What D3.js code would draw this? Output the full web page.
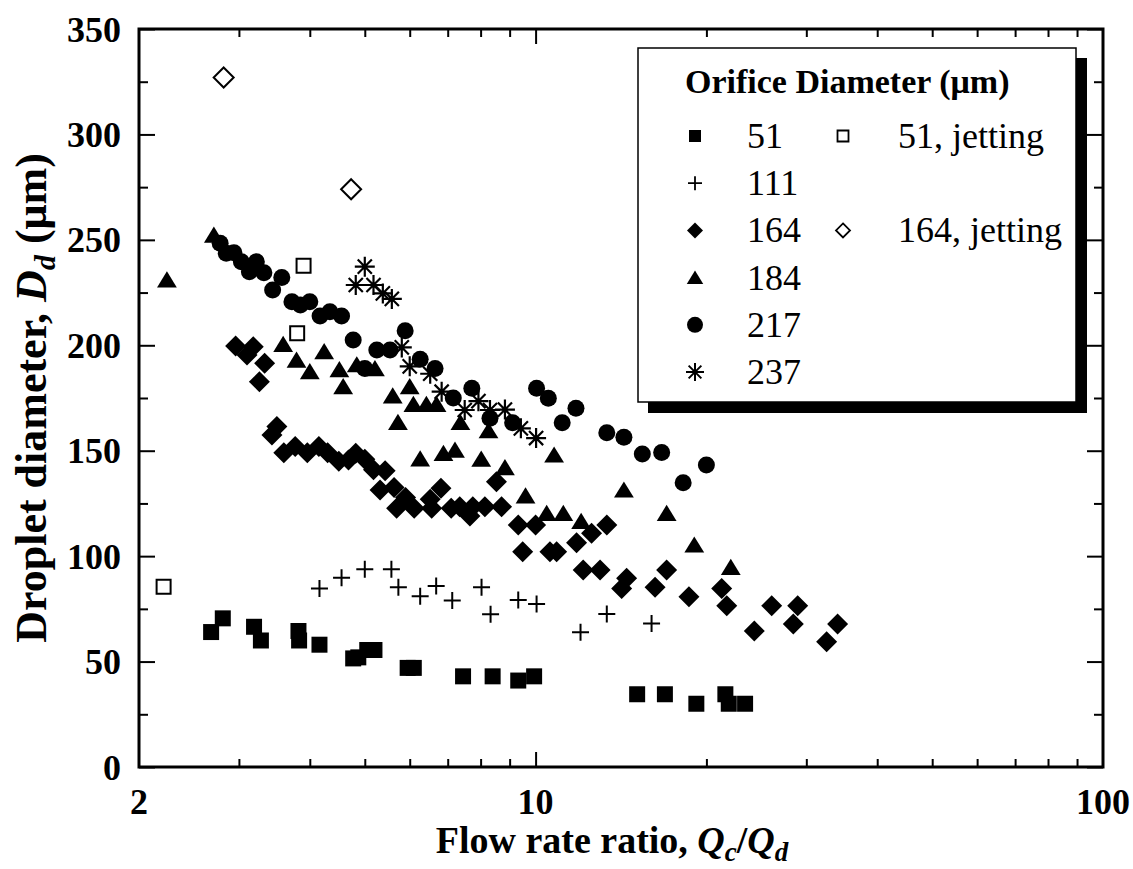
<!DOCTYPE html>
<html><head><meta charset="utf-8">
<script src="https://cdn.jsdelivr.net/npm/d3@7"></script>
<style>body{margin:0;background:#fff}svg text{font-family:"Liberation Serif","Times New Roman",serif}</style>
</head><body>
<svg id="c" width="1133" height="869"></svg>
<script>
// ---------- data (x = Qc/Qd, y = Dd in µm) ----------
const d51 = [[2.68,64],[2.81,70.5],[3.19,66.5],[3.28,60],[3.82,64.5],[3.83,60],[4.16,58],[4.77,51.5],[4.87,52],[5.05,55.5],[5.2,55.5],[5.95,47],[6.1,47],[7.45,43],[8.4,43],[9.32,41],[9.94,43],[15.1,34.5],[16.9,34.5],[19.2,30],[21.6,34.5],[21.9,30],[23.4,30]];
const d51jet = [[2.21,85.5],[3.90,237.7],[3.80,205.7]];
const d111 = [[4.16,84.7],[4.55,89.8],[5.0,93.8],[5.57,93.8],[5.73,85.2],[6.26,81],[6.68,85.8],[7.13,79],[8.03,85.2],[8.33,72.4],[9.32,79.2],[10.04,77.3],[12.0,63.9],[13.35,72.6],[16.01,68.1]];
const d164 = [[2.96,199.7],[3.10,195.4],[3.18,199.3],[3.26,182.7],[3.33,191.5],[3.43,157.4],[3.5,161.5],[3.6,149],[3.77,152],[3.96,149],[4.15,152],[4.3,149],[4.5,145],[4.68,145.6],[4.82,148.8],[5.0,146],[5.18,141],[5.43,140.5],[5.32,131.4],[5.63,132.5],[5.69,122.7],[5.9,127.8],[6.11,122.7],[6.52,127],[6.56,122.7],[6.81,132.2],[7.1,122.7],[7.35,123.4],[7.66,119],[7.75,123.4],[8.14,123.4],[8.53,135.3],[8.71,123.4],[9.32,114.8],[9.49,102.1],[10.0,114.8],[10.6,102.1],[10.89,102.1],[11.81,106.4],[12.13,93.4],[12.55,110.8],[12.99,93.4],[13.35,114.8],[14.18,84.7],[14.47,89.5],[16.24,85.2],[17.02,93.4],[18.63,80.8],[21.28,84.7],[21.72,76.5],[24.29,64.5],[26.07,76.5],[28.46,67.8],[28.97,76.5],[32.58,59.4],[34.06,67.8]];
const d164jet = [[2.82,327],[4.73,274]];
const d184 = [[2.24,231],[2.71,252.3],[3.59,200.5],[3.79,193],[4.0,187.5],[4.24,197],[4.51,188.5],[4.58,180.4],[4.84,190.8],[5.21,189],[5.6,176],[5.72,163.5],[6.0,180.4],[6.09,172],[6.42,172],[6.69,172],[6.26,146.2],[6.88,148.8],[7.21,150.3],[7.37,163.4],[8.02,146],[8.26,159.5],[8.83,142],[9.6,128.6],[10.46,120.3],[10.78,148],[11.19,120.3],[12.03,116.5],[14.31,131.4],[17.02,120.3],[19.04,105.3],[22.08,94.7]];
const d217 = [[2.78,248.4],[2.85,243.6],[2.94,243.9],[3.03,239.6],[3.13,234.9],[3.22,239.6],[3.32,234.4],[3.44,226.2],[3.57,232.2],[3.72,220.7],[3.85,219.1],[4.0,220.7],[4.17,213.9],[4.34,215.9],[4.55,213.9],[4.77,202.5],[5.0,189],[5.25,197.8],[5.54,197.8],[5.89,206.9],[6.26,193.4],[6.65,189],[7.16,175],[7.72,179.6],[8.31,165.4],[9.11,163.3],[10.04,179.6],[10.53,174.9],[11.14,163.3],[11.78,170.1],[13.35,158.5],[14.31,156.4],[15.42,148.4],[16.68,149.2],[18.2,134.8],[20.0,143.2]];
const d237 = [[4.82,228.6],[5.0,237.3],[5.18,228.6],[5.38,224.6],[5.58,222],[5.81,199],[6.0,190],[6.52,186.5],[6.83,178],[7.5,169.3],[7.93,173.5],[8.31,169.3],[8.83,169.5],[9.42,160.6],[10.02,156]];

const xMajorTicks = [2, 10, 100];
const xMinorTicks = [3,4,5,6,7,8,9,20,30,40,50,60,70,80,90];
const yMajorTicks = [0,50,100,150,200,250,300,350];
const yMinorTicks = [25,75,125,175,225,275,325];
const legendTitle = "Orifice Diameter (\u03bcm)";
const legendCol1 = ["51","111","164","184","217","237"];
const legendCol2 = ["51, jetting","","164, jetting","","",""];

// ---------- layout ----------
const L = 139, R = 1103, T = 29, B = 767;
const svg = d3.select("#c");
const x = d3.scaleLog().domain([2,100]).range([L,R]);
const y = d3.scaleLinear().domain([0,350]).range([B,T]);

// symbols
const sym = {
  sq: s => `M${-s},${-s}H${s}V${s}H${-s}Z`,
  circ: s => `M${-s},0A${s},${s} 0 1,0 ${s},0A${s},${s} 0 1,0 ${-s},0Z`,
  tri: s => `M0,${-s*0.95}L${s*1.1},${s*0.85}L${-s*1.1},${s*0.85}Z`,
  dia: s => `M0,${-s}L${s},0L0,${s}L${-s},0Z`,
  plus: s => `M${-s},0H${s}M0,${-s}V${s}`,
  ast: s => { const a = s*0.7071; return `M${-s},0H${s}M0,${-s}V${s}M${-a},${-a}L${a},${a}M${-a},${a}L${a},${-a}`; }
};
const series = [
  {data:d51jet, shape:"sq", size:7, fill:"none", stroke:2},
  {data:d164jet, shape:"dia", size:10, fill:"none", stroke:2},
  {data:d111, shape:"plus", size:8.5, fill:"none", stroke:2},
  {data:d237, shape:"ast", size:10, fill:"none", stroke:2.2},
  {data:d164, shape:"dia", size:10.5, fill:"#000", stroke:0},
  {data:d184, shape:"tri", size:9, fill:"#000", stroke:0},
  {data:d217, shape:"circ", size:8.5, fill:"#000", stroke:0},
  {data:d51, shape:"sq", size:8, fill:"#000", stroke:0}
];

// axes (ticks inward)
function drawAxis(gen, transform, vals, size){
  svg.append("g").attr("transform", transform)
    .call(gen.tickValues(vals).tickSize(size).tickFormat(""))
    .call(g => g.select(".domain").remove())
    .call(g => g.selectAll("line").attr("stroke","#000").attr("stroke-width",2));
}
drawAxis(d3.axisBottom(x), `translate(0,${B})`, xMajorTicks.slice(1,2), -15);
drawAxis(d3.axisBottom(x), `translate(0,${B})`, xMinorTicks, -8);
drawAxis(d3.axisTop(x), `translate(0,${T})`, xMajorTicks.slice(1,2), -15);
drawAxis(d3.axisTop(x), `translate(0,${T})`, xMinorTicks, -8);
drawAxis(d3.axisLeft(y), `translate(${L},0)`, yMajorTicks, -16);
drawAxis(d3.axisLeft(y), `translate(${L},0)`, yMinorTicks, -9);
drawAxis(d3.axisRight(y), `translate(${R},0)`, yMajorTicks, -16);
drawAxis(d3.axisRight(y), `translate(${R},0)`, yMinorTicks, -9);

// tick labels
svg.append("g").selectAll("text").data(xMajorTicks).join("text")
  .attr("x", d => x(d)).attr("y", 814).attr("text-anchor","middle")
  .attr("font-size",36).attr("font-weight","bold").text(d => d);
svg.append("g").selectAll("text").data(yMajorTicks).join("text")
  .attr("x", 121).attr("y", d => y(d)).attr("dy","0.35em").attr("text-anchor","end")
  .attr("font-size",36).attr("font-weight","bold").text(d => d);

// data
series.forEach(s => {
  svg.append("g").selectAll("path").data(s.data).join("path")
    .attr("transform", d => `translate(${x(d[0])},${y(d[1])})`)
    .attr("d", sym[s.shape](s.size))
    .attr("fill", s.fill).attr("stroke", s.stroke ? "#000" : "none")
    .attr("stroke-width", s.stroke);
});

// frame
svg.append("rect").attr("x",L).attr("y",T).attr("width",R-L).attr("height",B-T)
  .attr("fill","none").attr("stroke","#000").attr("stroke-width",3);

// axis titles
const xt = svg.append("text").attr("x",612).attr("y",853).attr("text-anchor","middle")
  .attr("font-size",38).attr("font-weight","bold");
xt.append("tspan").text("Flow rate ratio, ");
xt.append("tspan").attr("font-style","italic").text("Q");
xt.append("tspan").attr("font-style","italic").attr("font-size",27).attr("dy",8).text("c");
xt.append("tspan").attr("dy",-8).text("/");
xt.append("tspan").attr("font-style","italic").text("Q");
xt.append("tspan").attr("font-style","italic").attr("font-size",27).attr("dy",8).text("d");

const yt = svg.append("text").attr("transform",`translate(46,${(T+B)/2}) rotate(-90)`)
  .attr("text-anchor","middle").attr("font-size",44).attr("font-weight","bold");
yt.append("tspan").text("Droplet diameter, ");
yt.append("tspan").attr("font-style","italic").text("D");
yt.append("tspan").attr("font-style","italic").attr("font-size",30).attr("dy",9).text("d");
yt.append("tspan").attr("dy",-9).text(" (\u03bcm)");

// legend
const lg = svg.append("g");
lg.append("rect").attr("x",1076).attr("y",58).attr("width",11).attr("height",355).attr("fill","#000");
lg.append("rect").attr("x",648).attr("y",402).attr("width",439).attr("height",11).attr("fill","#000");
lg.append("rect").attr("x",638).attr("y",48).attr("width",438).attr("height",354)
  .attr("fill","#fff").attr("stroke","#000").attr("stroke-width",1.5);
lg.append("text").attr("x",685).attr("y",93).attr("font-size",34).attr("font-weight","bold").text(legendTitle);
const legSym1 = [{shape:"sq",size:6,fill:"#000",stroke:0},{shape:"plus",size:7,fill:"none",stroke:1.8},{shape:"dia",size:8,fill:"#000",stroke:0},{shape:"tri",size:7.5,fill:"#000",stroke:0},{shape:"circ",size:8,fill:"#000",stroke:0},{shape:"ast",size:9,fill:"none",stroke:2}];
const legSym2 = [{shape:"sq",size:5.5,fill:"none",stroke:1.8},null,{shape:"dia",size:7,fill:"none",stroke:1.8},null,null,null];
const rowY = i => 136 + i*47.2;
legendCol1.forEach((t,i) => {
  const s = legSym1[i];
  lg.append("path").attr("transform",`translate(695,${rowY(i)})`).attr("d",sym[s.shape](s.size))
    .attr("fill",s.fill).attr("stroke",s.stroke?"#000":"none").attr("stroke-width",s.stroke);
  lg.append("text").attr("x",747).attr("y",rowY(i)+12).attr("font-size",36).text(t);
  const s2 = legSym2[i];
  if (s2) {
    lg.append("path").attr("transform",`translate(843,${rowY(i)})`).attr("d",sym[s2.shape](s2.size))
      .attr("fill",s2.fill).attr("stroke","#000").attr("stroke-width",s2.stroke);
    lg.append("text").attr("x",898).attr("y",rowY(i)+12).attr("font-size",36).text(legendCol2[i]);
  }
});
</script>
</body></html>
